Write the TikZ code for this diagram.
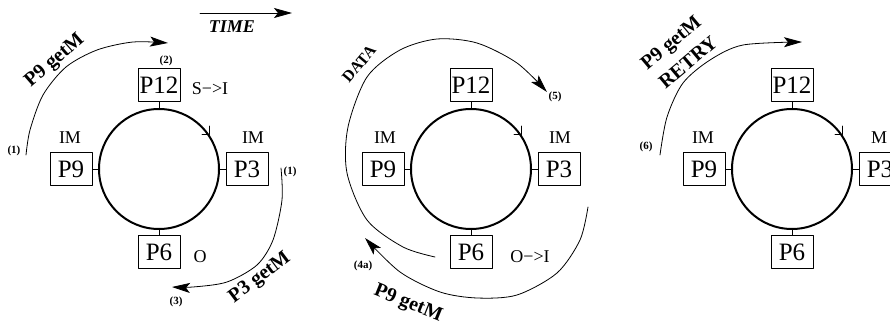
\documentclass[tikz,border=0pt]{standalone}
\usepackage{fontspec}
\setmainfont{Liberation Serif}
\usetikzlibrary{arrows.meta}

\tikzset{
  ring/.style={circle, draw, line width=1pt, minimum size=60pt, inner sep=0pt},
  proc/.style={draw, line width=0.4pt, minimum width=21pt, minimum height=16.5pt, inner sep=0pt, font=\fontsize{12.5}{14}\selectfont},
  cstate/.style={font=\fontsize{9}{10}\selectfont},
  msg/.style={font=\fontsize{10}{12}\selectfont\bfseries},
  tag/.style={font=\fontsize{5.5}{6}\selectfont\bfseries},
  flow/.style={line width=0.4pt, -{Stealth[length=9pt,width=5pt,inset=2pt]}}
}

\begin{document}
\begin{tikzpicture}[x=0.5pt, y=-0.5pt, line cap=round, line join=round]
    \useasboundingbox (0,0) rectangle (890,326);
    \clip (0,0) rectangle (890,326);

    % Rings with their four processors
    \foreach \n/\x in {1/159, 2/471, 3/792} {
        \node[ring] (r\n) at (\x,169) {};
        \node[proc] (top\n) at (\x,85) {P12};
        \node[proc] (left\n) at (\x-88,169) {P9};
        \node[proc] (right\n) at (\x+88,169) {P3};
        \node[proc] (bot\n) at (\x,252) {P6};
        \draw (top\n) -- (r\n);
        \draw (left\n) -- (r\n);
        \draw (right\n) -- (r\n);
        \draw (bot\n) -- (r\n);
        % direction mark
        \draw (r\n.35) ++(0,-8) -- (r\n.35) -- ++(-7,0);
    }

    % Time axis
    \coordinate (t0) at (200,13);
    \coordinate (t1) at (292,13);
    \draw[flow] (t0) -- (t1);
    \node[font=\fontsize{9}{10}\selectfont\bfseries\itshape] (time) at (232,27) {TIME};

    % Cache states
    \node[cstate] (s9a) at (70,138) {IM};
    \node[cstate] (s3a) at (253,138) {IM};
    \node[cstate] (s12a) at (210,89) {S−>I};
    \node[cstate] (s6a) at (200,257) {O};
    \node[cstate] (s9b) at (385,138) {IM};
    \node[cstate] (s3b) at (560,138) {IM};
    \node[cstate] (s6b) at (530,257) {O−>I};
    \node[cstate] (s9c) at (703,138) {IM};
    \node[cstate] (s3c) at (879,138) {M};

    % Messages, first snapshot
    \draw[flow] plot[smooth] coordinates {(26,155) (30,130) (43,95) (66,67) (97,50) (133,42) (168,43)};
    \node[msg, rotate=41] (m1) at (55,61) {P9 getM};
    \draw[flow] plot[smooth] coordinates {(281,168) (282,200) (273,240) (257,265) (227,282) (193,287) (172,287)};
    \node[msg, rotate=37] (m2) at (260,278) {P3 getM};

    % Messages, second snapshot
    \draw[flow] plot[smooth] coordinates {(435,257) (403,247) (367,220) (347,173) (348,127) (367,77) (400,50) (437,39) (477,43) (517,63) (547,92)};
    \node[msg, font=\fontsize{8}{9}\selectfont\bfseries, rotate=50] (m3) at (359,64) {DATA};
    \draw[flow] plot[smooth] coordinates {(588,207) (580,240) (557,273) (517,295) (477,298) (440,292) (400,272) (365,238)};
    \node[msg, rotate=-22] (m4) at (408,304) {P9 getM};

    % Messages, third snapshot
    \draw[flow] plot[smooth] coordinates {(660,155) (667,117) (683,83) (710,60) (743,45) (802,42)};
    \node[msg, rotate=40] (m5) at (672,44) {P9 getM};
    \node[msg, rotate=40] (m6) at (688,62) {RETRY};

    % Step numbers
    \node[tag] (n1) at (14,151) {(1)};
    \node[tag] (n2) at (166,61) {(2)};
    \node[tag] (n1b) at (290,172) {(1)};
    \node[tag] (n3) at (176,302) {(3)};
    \node[tag] (n4) at (363,266) {(4a)};
    \node[tag] (n5) at (555,97) {(5)};
    \node[tag] (n6) at (646,147) {(6)};
\end{tikzpicture}
\end{document}
